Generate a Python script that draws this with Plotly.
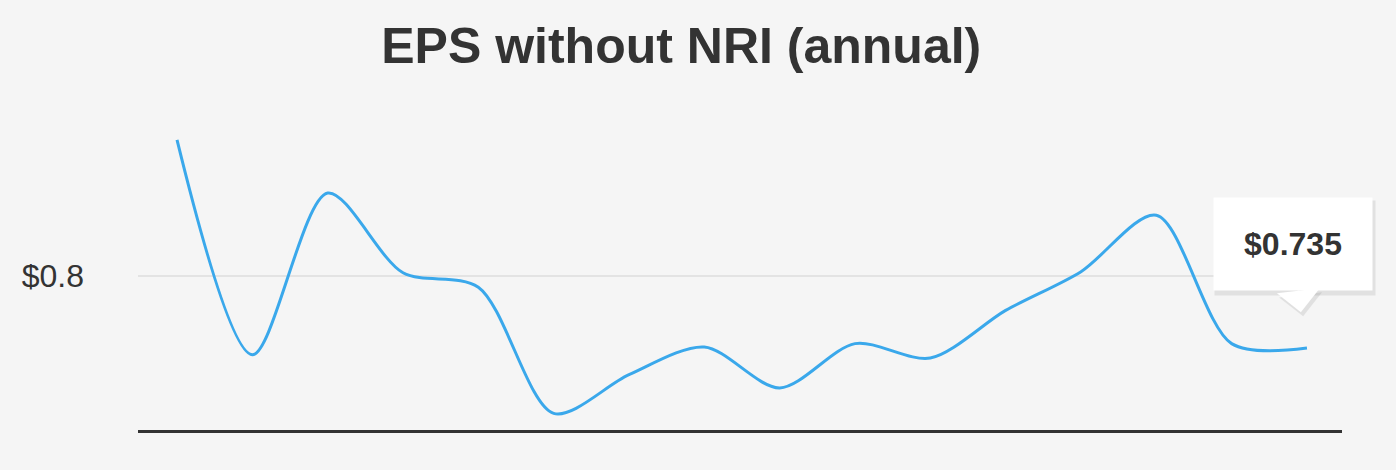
import plotly.graph_objects as go

# annual EPS without NRI (oldest -> latest)
years = list(range(2009, 2025))
eps = [0.923, 0.729, 0.875, 0.803, 0.790, 0.676, 0.711, 0.736,
       0.699, 0.739, 0.726, 0.769, 0.804, 0.855, 0.739, 0.735]

y_ticks = [0.8]
y_tick_text = ["$0.8"]
last_label = "$0.735"

BG = "#f5f5f5"
TEXT = "#333333"
LINE = "#3aa8eb"

fig = go.Figure()
fig.add_trace(go.Scatter(
    x=years,
    y=eps,
    mode="lines",
    line=dict(color=LINE, width=3, shape="spline", smoothing=0.85),
    hoverinfo="skip",
    showlegend=False,
))

tip_x, tip_y = years[-1], eps[-1]
# soft shadow behind the tooltip
fig.add_annotation(
    x=tip_x, y=tip_y, ax=-12, ay=-100, xshift=0,
    text="", showarrow=True,
    arrowhead=1, arrowsize=3.6, arrowwidth=2, standoff=32,
    arrowcolor="rgba(0,0,0,0.08)",
    width=160, height=94, bgcolor="rgba(0,0,0,0.08)", borderpad=0,
)
fig.add_annotation(
    x=tip_x, y=tip_y, ax=-12, ay=-104, xshift=-2,
    text="<b>" + last_label + "</b>", showarrow=True,
    arrowhead=1, arrowsize=3.6, arrowwidth=2, standoff=36,
    arrowcolor="white",
    font=dict(family="Liberation Sans, Arial, sans-serif", size=32, color=TEXT),
    width=158, height=92, bgcolor="white", borderpad=0,
)

fig.update_layout(
    width=1396,
    height=470,
    paper_bgcolor=BG,
    plot_bgcolor=BG,
    margin=dict(l=138, r=54, t=110, b=40),
    font=dict(family="Liberation Sans, Arial, sans-serif", color=TEXT),
    title=dict(
        text="<b>EPS without NRI (annual)</b>",
        font=dict(size=50, color=TEXT),
        x=0.488, xref="container", xanchor="center",
        y=1 - 45 / 470, yref="container", yanchor="middle",
    ),
)
fig.update_xaxes(
    range=[years[0] - 0.518, years[-1] + 0.465],
    showgrid=False, zeroline=False, showticklabels=False, ticks="",
    showline=True, linecolor=TEXT, linewidth=3,
)
fig.update_yaxes(
    range=[0.661, 0.950],
    tickvals=y_ticks, ticktext=y_tick_text,
    tickfont=dict(size=32, color=TEXT),
    ticklabelstandoff=53,
    showgrid=True, gridcolor="#e3e3e3", gridwidth=2,
    zeroline=False, showline=False, ticks="",
)

# drop the browser's default page margin so the chart sits at 0,0
fig.write_html(
    "out.html",
    config={"displayModeBar": False},
    post_script="document.body.style.margin='0';",
)
